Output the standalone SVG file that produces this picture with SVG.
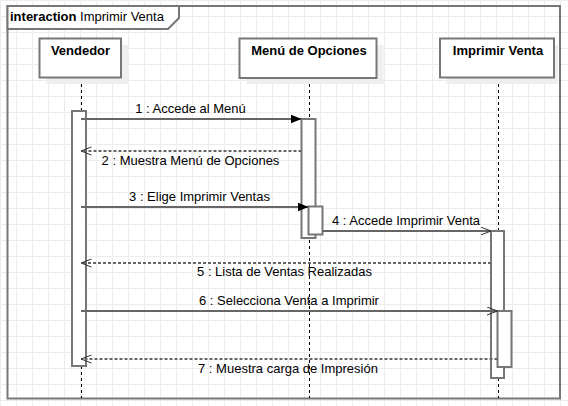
<svg xmlns="http://www.w3.org/2000/svg" width="568" height="406" viewBox="0 0 568 406">
<style>
.frame{fill:none;stroke:#777;stroke-width:2}
.box{fill:#fff;stroke:#777;stroke-width:2}
.shadow{fill:#efefef}
.life{stroke:#000;stroke-width:1;stroke-dasharray:3,3;fill:none}
.bar{fill:#fff;stroke:#777;stroke-width:2}
.msg{stroke:#666;stroke-width:2;fill:none}
.ret{stroke:#666;stroke-width:2;fill:none;stroke-dasharray:3,2}
.lbl{font-family:"Liberation Sans",Arial,sans-serif;font-size:13px;fill:#000;text-anchor:middle}
.ttl{font-family:"Liberation Sans",Arial,sans-serif;font-size:13px;font-weight:bold;fill:#000;text-anchor:middle}
</style>
<defs>
<pattern id="grid" width="16" height="16" patternUnits="userSpaceOnUse">
<path d="M16 0.5 H0.5 V16" fill="none" stroke="#ececec" stroke-width="1"/>
</pattern>
<marker id="filled" markerUnits="userSpaceOnUse" markerWidth="12" markerHeight="10" refX="11" refY="4.5" orient="auto">
<path d="M0,0 L11,4.5 L0,9 z" fill="#000"/>
</marker>
<marker id="open" markerUnits="userSpaceOnUse" markerWidth="12" markerHeight="10" refX="10.5" refY="4.5" orient="auto">
<path d="M0,0.5 L10.5,4.5 L0,8.5" fill="none" stroke="#333" stroke-width="1"/>
</marker>
</defs>
<rect width="568" height="406" fill="#fff"/>
<rect width="568" height="406" fill="url(#grid)"/>
<g id="frame">
<rect class="frame" x="7.5" y="6" width="552.5" height="392.5"/>
<path d="M7.5,6 H179 V18 L168,29 H7.5 Z" fill="#fff" stroke="#777" stroke-width="2"/>
<text x="10" y="21" font-family="Liberation Sans, Arial, sans-serif" font-size="13"><tspan font-weight="bold">interaction</tspan> Imprimir Venta</text>
</g>
<g id="lifelines">
<line class="life" x1="81.5" y1="78" x2="81.5" y2="398"/>
<line class="life" x1="309.5" y1="78" x2="309.5" y2="398"/>
<line class="life" x1="498.5" y1="78" x2="498.5" y2="398"/>
</g>
<g id="vendedor">
<rect class="shadow" x="46.5" y="45" width="82" height="39"/>
<rect class="box" x="39.5" y="38.5" width="81.5" height="39"/>
<text class="ttl" x="80.5" y="55">Vendedor</text>
<rect class="bar" x="72" y="111" width="14" height="255"/>
</g>
<g id="menu">
<rect class="shadow" x="246.5" y="45" width="137" height="39"/>
<rect class="box" x="239.5" y="38.5" width="137" height="39.5"/>
<text class="ttl" x="309" y="55">Menú de Opciones</text>
<rect class="bar" x="301.5" y="119" width="14" height="119"/>
<rect class="bar" x="308.5" y="206.5" width="14" height="28"/>
</g>
<g id="imprimir">
<rect class="shadow" x="446.5" y="45" width="111.5" height="39"/>
<rect class="box" x="440" y="38.5" width="114" height="39"/>
<text class="ttl" x="498" y="55">Imprimir Venta</text>
<rect class="bar" x="491" y="231" width="13" height="147"/>
<rect class="bar" x="497.5" y="311" width="14" height="56"/>
</g>
<g id="connectors">
<line class="msg" x1="81" y1="119" x2="301.5" y2="119" marker-end="url(#filled)"/>
<line class="ret" x1="301.5" y1="151" x2="81" y2="151" marker-end="url(#open)"/>
<line class="msg" x1="81" y1="207" x2="308.5" y2="207" marker-end="url(#filled)"/>
<line class="msg" x1="322.5" y1="231" x2="491" y2="231" marker-end="url(#open)"/>
<line class="ret" x1="491" y1="263" x2="81" y2="263" marker-end="url(#open)"/>
<line class="msg" x1="81" y1="311" x2="497.5" y2="311" marker-end="url(#open)"/>
<line class="ret" x1="497.5" y1="359" x2="81" y2="359" marker-end="url(#open)"/>
<text class="lbl" x="190.5" y="113">1 : Accede al Menú</text>
<text class="lbl" x="190.5" y="165">2 : Muestra Menú de Opciones</text>
<text class="lbl" x="199.5" y="201">3 : Elige Imprimir Ventas</text>
<text class="lbl" x="406" y="225">4 : Accede Imprimir Venta</text>
<text class="lbl" x="284.5" y="276">5 : Lista de Ventas Realizadas</text>
<text class="lbl" x="289" y="305">6 : Selecciona Venta a Imprimir</text>
<text class="lbl" x="288" y="373">7 : Muestra carga de Impresión</text>
</g>
</svg>
